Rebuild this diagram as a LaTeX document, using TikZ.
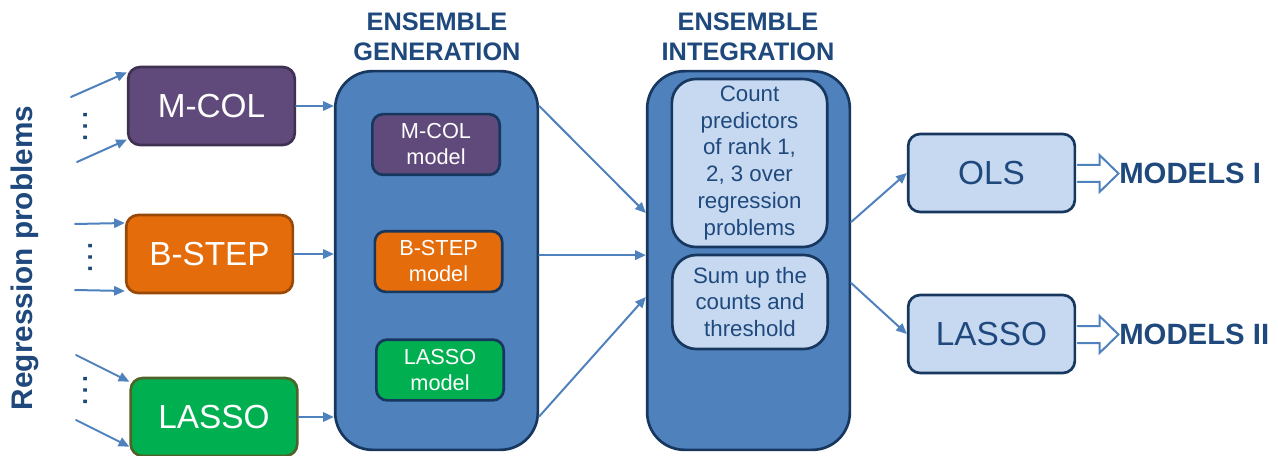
\documentclass[tikz,border=0pt]{standalone}
\usepackage{fontspec}
\setmainfont{Liberation Sans}
\usetikzlibrary{arrows.meta}
\definecolor{navy}{HTML}{1F497D}
\definecolor{edge}{HTML}{17375E}
\definecolor{linkblue}{HTML}{4F81BD}
\definecolor{lightblue}{HTML}{C6D9F1}
\definecolor{mcolfill}{HTML}{604A7B}
\definecolor{mcoledge}{HTML}{3F3151}
\definecolor{bstepfill}{HTML}{E46C0A}
\definecolor{bstepedge}{HTML}{984807}
\definecolor{lassofill}{HTML}{00B050}
\definecolor{lassoedge}{HTML}{4F6228}
\tikzset{>={Triangle[length=8pt,width=7pt]}}
\tikzset{
  srcbox/.style={rounded corners=9pt, line width=2pt, text=white, inner sep=0pt,
    font=\fontsize{25}{30}\selectfont, minimum width=125pt, minimum height=58.5pt},
  bigbox/.style={rounded corners=28pt, line width=2pt, draw=edge, fill=linkblue,
    minimum width=152pt, minimum height=284pt},
  modelbox/.style={rounded corners=8pt, line width=2pt, draw=edge, text=white, align=center,
    inner sep=0pt, font=\fontsize{16.3}{19.5}\selectfont, minimum width=95.5pt, minimum height=45.5pt},
  stepbox/.style={rounded corners=18pt, line width=2pt, draw=edge, fill=lightblue, text=navy,
    align=center, inner sep=0pt, font=\fontsize{16.7}{20.2}\selectfont, minimum width=116.5pt},
  outbox/.style={rounded corners=9pt, line width=2pt, draw=edge, fill=lightblue, text=navy,
    inner sep=0pt, font=\fontsize{25}{30}\selectfont, minimum width=125pt, minimum height=58.5pt},
  heading/.style={align=center, text=navy, inner sep=0pt, font=\bfseries\fontsize{19}{22.5}\selectfont},
  outlabel/.style={anchor=west, text=navy, inner sep=0pt, font=\bfseries\fontsize{22}{26}\selectfont},
  dots/.style={rotate=90, text=navy, inner sep=0pt, font=\fontsize{27}{27}\selectfont},
  link/.style={->, draw=linkblue, line width=1.5pt},
  hollow/.style={draw=linkblue, fill=white, line width=1.5pt, line join=miter}
}

\begin{document}
\begin{tikzpicture}[x=0.75pt, y=-0.75pt, line cap=round, line join=round]
\useasboundingbox (0,0) rectangle (1278,456);

% side label
\node[rotate=90, text=navy, inner sep=0pt, font=\bfseries\fontsize{22.3}{26}\selectfont] (reg) at (25,258) {Regression problems};

% base learners
\node[srcbox, draw=mcoledge, fill=mcolfill] (mcol) at (211.5,106) {M-COL};
\node[srcbox, draw=bstepedge, fill=bstepfill] (bstep) at (209.5,254) {B-STEP};
\node[srcbox, draw=lassoedge, fill=lassofill] (lasso) at (214,417) {LASSO};

\node[dots] (dots1) at (86,127) {\ldots};
\node[dots] (dots2) at (91,257) {\ldots};
\node[dots] (dots3) at (86,390) {\ldots};

\coordinate (in1) at (71,97);
\coordinate (in2) at (77,162);
\coordinate (in3) at (75,224);
\coordinate (in4) at (75,290);
\coordinate (in5) at (76,355);
\coordinate (in6) at (76,420);
\draw[link] (in1) -- ([yshift=-5pt]mcol.north west);
\draw[link] (in2) -- ([yshift=5pt]mcol.south west);
\draw[link] (in3) -- ([yshift=-7pt]bstep.north west);
\draw[link] (in4) -- ([yshift=2.5pt]bstep.south west);
\draw[link] (in5) -- ([yshift=-3.75pt]lasso.north west);
\draw[link] (in6) -- ([yshift=-52.5pt]lasso.north west);

% ensemble generation
\node[heading] (gentitle) at (437,37) {ENSEMBLE\\GENERATION};
\node[bigbox] (gen) at (436.5,260.5) {};
\node[modelbox, fill=mcolfill] (mcolm) at (436,144.5) {M-COL\\model};
\node[modelbox, fill=bstepfill] (bstepm) at (438.5,261.5) {B-STEP\\model};
\node[modelbox, fill=lassofill] (lassom) at (440,370) {LASSO\\model};

\draw[link] (mcol.east) -- (gen.west |- mcol.east);
\draw[link] (bstep.east) -- (gen.west |- bstep.east);
\draw[link] (lasso.east) -- (gen.west |- lasso.east);

% ensemble integration
\node[heading] (inttitle) at (748,37) {ENSEMBLE\\INTEGRATION};
\node[bigbox] (int) at (748.5,260.5) {};
\node[stepbox, minimum height=126pt] (count) at (749.5,163) {Count\\predictors\\of rank 1,\\2, 3 over\\regression\\problems};
\node[stepbox, minimum height=70.5pt] (sum) at (750,302) {Sum up the\\counts and\\threshold};

\draw[link] ([yshift=115.9pt]gen.east) -- ([yshift=35.6pt]int.west);
\draw[link] ([yshift=4pt]gen.east) -- ([yshift=4pt]int.west);
\draw[link] ([yshift=-117pt]gen.east) -- ([yshift=-27.4pt]int.west);

% final models
\node[outbox] (ols) at (991.5,173) {OLS};
\node[outbox] (lasso2) at (991.5,334) {LASSO};

\draw[link] ([yshift=28.9pt]int.east) -- (ols.west);
\draw[link] ([yshift=-16.9pt]int.east) -- (lasso2.west);

\node[outlabel] (mod1) at (1119,173.5) {MODELS I};
\node[outlabel] (mod2) at (1119,334.5) {MODELS II};

\filldraw[hollow] ([xshift=1pt, yshift=6pt]ols.east) -- ++(22,0) -- ++(0,-10) -- ++(19,18.5) -- ++(-19,18.5) -- ++(0,-10) -- ++(-22,0);
\filldraw[hollow] ([xshift=1pt, yshift=6pt]lasso2.east) -- ++(22,0) -- ++(0,-10) -- ++(19,18.5) -- ++(-19,18.5) -- ++(0,-10) -- ++(-22,0);

\end{tikzpicture}
\end{document}
